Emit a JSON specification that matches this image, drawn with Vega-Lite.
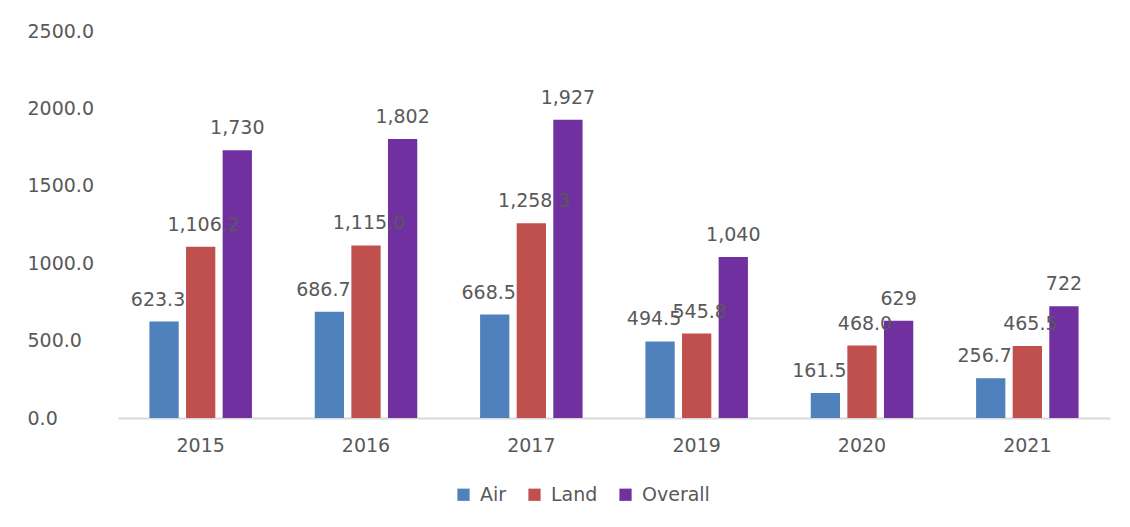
{
  "$schema": "https://vega.github.io/schema/vega-lite/v6.json",
  "width": 992,
  "height": 387,
  "autosize": {"type": "none"},
  "padding": {"left": 118, "top": 31, "right": 20, "bottom": 109},
  "background": "white",
  "config": {
    "view": {"stroke": null},
    "font": "DejaVu Sans",
    "text": {"font": "DejaVu Sans"}
  },
  "data": {
    "values": [
      {"year": "2015", "series": "Air", "value": 623.3},
      {"year": "2015", "series": "Land", "value": 1106.2},
      {"year": "2015", "series": "Overall", "value": 1730},
      {"year": "2016", "series": "Air", "value": 686.7},
      {"year": "2016", "series": "Land", "value": 1115.0},
      {"year": "2016", "series": "Overall", "value": 1802},
      {"year": "2017", "series": "Air", "value": 668.5},
      {"year": "2017", "series": "Land", "value": 1258.3},
      {"year": "2017", "series": "Overall", "value": 1927},
      {"year": "2019", "series": "Air", "value": 494.5},
      {"year": "2019", "series": "Land", "value": 545.8},
      {"year": "2019", "series": "Overall", "value": 1040},
      {"year": "2020", "series": "Air", "value": 161.5},
      {"year": "2020", "series": "Land", "value": 468.0},
      {"year": "2020", "series": "Overall", "value": 629},
      {"year": "2021", "series": "Air", "value": 256.7},
      {"year": "2021", "series": "Land", "value": 465.5},
      {"year": "2021", "series": "Overall", "value": 722}
    ]
  },
  "encoding": {
    "x": {
      "field": "year", "type": "nominal",
      "scale": {"paddingInner": 0.38, "paddingOuter": 0.19},
      "axis": {
        "title": null, "labelAngle": 0, "ticks": false,
        "domainColor": "#d9d9d9", "domainWidth": 2,
        "labelFont": "DejaVu Sans", "labelFontSize": 19, "labelColor": "#595959",
        "labelPadding": 18
      }
    },
    "xOffset": {
      "field": "series", "type": "nominal",
      "scale": {"paddingInner": 0.2, "paddingOuter": 0}
    },
    "y": {
      "field": "value", "type": "quantitative",
      "scale": {"domain": [0, 2500], "nice": false},
      "axis": {
        "title": null, "values": [0, 500, 1000, 1500, 2000, 2500], "format": ".1f",
        "grid": false, "domain": false, "ticks": false,
        "labelAlign": "left", "labelPadding": 91,
        "labelFont": "DejaVu Sans", "labelFontSize": 19, "labelColor": "#595959"
      }
    }
  },
  "layer": [
    {
      "mark": {"type": "bar"},
      "encoding": {
        "color": {
          "field": "series", "type": "nominal",
          "scale": {"domain": ["Air", "Land", "Overall"], "range": ["#4f81bd", "#c0504d", "#7030a0"]},
          "legend": {
            "title": null, "orient": "none", "direction": "horizontal",
            "legendX": 336, "legendY": 454,
            "symbolType": "square", "symbolSize": 150, "symbolStrokeWidth": 0,
            "labelFont": "DejaVu Sans", "labelFontSize": 19, "labelColor": "#595959",
            "columnPadding": 18, "labelOffset": 7
          }
        }
      }
    },
    {
      "transform": [{"filter": "datum.series === 'Air'"}],
      "mark": {"type": "text", "baseline": "bottom", "dy": -12, "dx": -6, "fontSize": 19, "color": "#595959"},
      "encoding": {"text": {"field": "value", "type": "quantitative", "format": ",.1f"}}
    },
    {
      "transform": [{"filter": "datum.series === 'Land'"}],
      "mark": {"type": "text", "baseline": "bottom", "dy": -12, "dx": 3, "fontSize": 19, "color": "#595959"},
      "encoding": {"text": {"field": "value", "type": "quantitative", "format": ",.1f"}}
    },
    {
      "transform": [{"filter": "datum.series === 'Overall'"}],
      "mark": {"type": "text", "baseline": "bottom", "dy": -12, "fontSize": 19, "color": "#595959"},
      "encoding": {"text": {"field": "value", "type": "quantitative", "format": ",.0f"}}
    }
  ]
}
